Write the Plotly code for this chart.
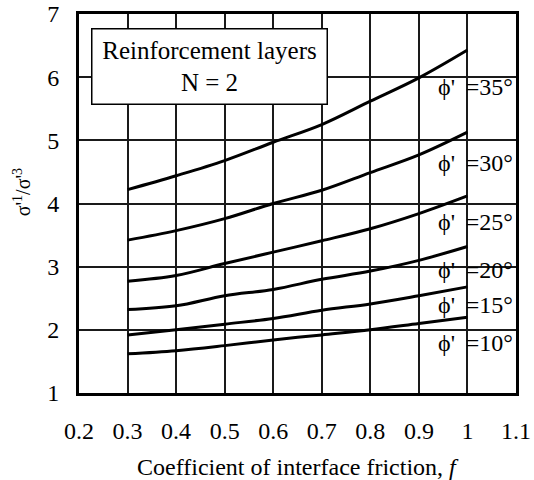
import plotly.graph_objects as go

# Data
friction = [0.3, 0.4, 0.5, 0.6, 0.7, 0.8, 0.9, 1.0]
phi35 = [4.22, 4.44, 4.68, 4.97, 5.25, 5.62, 5.99, 6.43]
phi30 = [3.42, 3.57, 3.76, 4.00, 4.21, 4.49, 4.77, 5.13]
phi25 = [2.77, 2.86, 3.05, 3.23, 3.41, 3.60, 3.84, 4.12]
phi20 = [2.32, 2.38, 2.54, 2.64, 2.80, 2.93, 3.10, 3.32]
phi15 = [1.92, 2.00, 2.09, 2.18, 2.31, 2.41, 2.54, 2.68]
phi10 = [1.62, 1.67, 1.75, 1.84, 1.92, 2.00, 2.10, 2.20]

series = [phi35, phi30, phi25, phi20, phi15, phi10]
angles = ["35", "30", "25", "20", "15", "10"]
label_y = [5.84, 4.64, 3.71, 2.95, 2.39, 1.79]

x_ticks = [0.2, 0.3, 0.4, 0.5, 0.6, 0.7, 0.8, 0.9, 1.0, 1.1]
x_ticktext = ["0.2", "0.3", "0.4", "0.5", "0.6", "0.7", "0.8", "0.9", "1", "1.1"]
y_ticks = [1, 2, 3, 4, 5, 6, 7]

FONT = "Liberation Serif, Times New Roman, serif"

fig = go.Figure()
for ys in series:
    fig.add_trace(go.Scatter(
        x=friction, y=ys, mode="lines",
        line=dict(color="black", width=3, shape="spline", smoothing=1.0),
        showlegend=False, hoverinfo="skip",
    ))

for a, ly in zip(angles, label_y):
    fig.add_annotation(
        x=1.016, y=ly, xref="x", yref="y",
        text=f"ϕ'\u2009 ={a}°", showarrow=False,
        font=dict(family=FONT, size=24, color="black"),
        xanchor="center", yanchor="middle",
    )

fig.add_annotation(
    x=0.469, y=6.17, xref="x", yref="y",
    text="Reinforcement layers<br>N = 2", showarrow=False,
    font=dict(family=FONT, size=25, color="black"),
    align="center", bgcolor="white", bordercolor="black", borderwidth=1.5,
    width=234, height=74, borderpad=0,
    xanchor="center", yanchor="middle",
)

# axis titles
fig.add_annotation(
    x=0.5, y=-0.195, xref="paper", yref="paper",
    text="Coefficient of interface friction, <i>f</i>", showarrow=False,
    font=dict(family=FONT, size=24, color="black"),
    xanchor="center", yanchor="middle",
)
fig.add_annotation(
    x=-0.13, y=0.53, xref="paper", yref="paper",
    text="σ'<sup>1</sup>/σ'<sup>3</sup>", showarrow=False, textangle=-90,
    font=dict(family=FONT, size=20, color="black"),
    xanchor="center", yanchor="middle",
)

fig.update_xaxes(
    range=[0.2, 1.1], tickvals=x_ticks, ticktext=x_ticktext,
    showgrid=True, gridcolor="#1a1a1a", gridwidth=1.5,
    showline=True, linecolor="black", linewidth=3, mirror=True,
    ticks="outside", ticklen=14, tickcolor="rgba(0,0,0,0)",
    tickfont=dict(family=FONT, size=24, color="black"),
    automargin=False, zeroline=False,
)
fig.update_yaxes(
    range=[1, 7], tickvals=y_ticks,
    showgrid=True, gridcolor="#1a1a1a", gridwidth=1.5,
    showline=True, linecolor="black", linewidth=3, mirror=True,
    ticks="outside", ticklen=12, tickcolor="rgba(0,0,0,0)",
    tickfont=dict(family=FONT, size=24, color="black"),
    automargin=False, zeroline=False,
)

fig.update_layout(
    width=534, height=480,
    margin=dict(l=79, r=18, t=14, b=87),
    plot_bgcolor="white", paper_bgcolor="white",
)

fig.write_html("out.html")
